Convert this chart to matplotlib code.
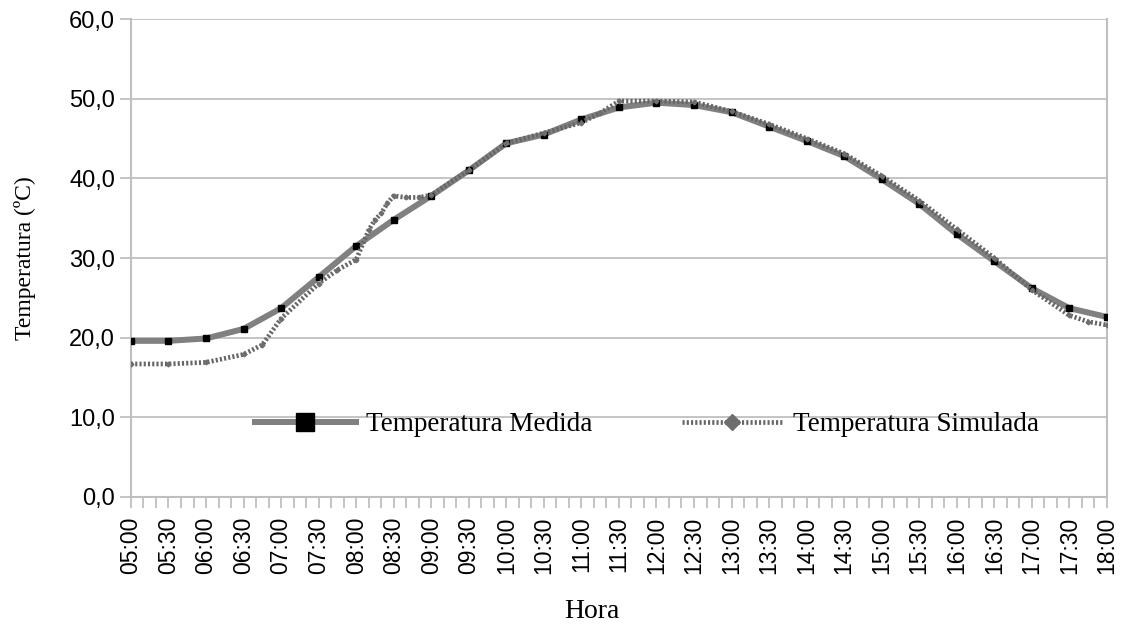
#!/usr/bin/env python3
"""Temperatura medida x simulada ao longo do dia (05:00-18:00)."""

import matplotlib
matplotlib.use("Agg")
import matplotlib.pyplot as plt
from matplotlib.lines import Line2D
from matplotlib.ticker import FuncFormatter, MultipleLocator

# Measured temperature, every 30 min starting at 05:00 (minutes since 05:00)
med_min = list(range(0, 781, 30))
med_temp = [19.6, 19.6, 19.9, 21.1, 23.7, 27.6, 31.5, 34.8, 37.8, 41.0,
            44.4, 45.5, 47.4, 48.9, 49.5, 49.2, 48.3, 46.5, 44.7, 42.8,
            39.9, 36.8, 33.0, 29.6, 26.2, 23.7, 22.6]

# Simulated temperature
sim_min = [0, 30, 60, 90, 105, 120, 150, 165, 180, 190, 195, 200, 205, 210,
           220, 230, 240, 270, 300, 330, 360, 375, 390, 420, 450, 480, 510,
           540, 570, 600, 630, 660, 690, 720, 750, 765, 780]
sim_temp = [16.7, 16.7, 16.9, 17.9, 19.1, 22.4, 26.8, 28.5, 29.8, 33.5,
            34.8, 35.6, 36.9, 37.8, 37.6, 37.6, 37.9, 41.0, 44.4, 45.7,
            47.0, 48.2, 49.7, 49.7, 49.6, 48.4, 46.8, 45.0, 43.1, 40.3,
            37.2, 33.6, 30.0, 26.0, 22.8, 22.0, 21.6]

y_ticks = [0, 10, 20, 30, 40, 50, 60]

SERIF = ["Liberation Serif", "DejaVu Serif"]
SANS = ["Liberation Sans", "DejaVu Sans"]
GRID = "#bfbfbf"


def hhmm(m, _pos=None):
    m = int(round(m)) + 5 * 60
    return f"{m // 60:02d}:{m % 60:02d}"


fig = plt.figure(figsize=(11.24, 6.28), dpi=100)
ax = fig.add_axes([0.1165, 0.2086, 0.8683, 0.7611])

ax.plot(med_min, med_temp, color="#808080", lw=4.3, solid_capstyle="round",
        marker="s", ms=4.0, mfc="black", mec="black", zorder=3)
ax.plot(sim_min, sim_temp, color="#666666", lw=3.4, linestyle=(0, (0.45, 0.45)),
        dash_capstyle="butt", marker="D", ms=2.4, mfc="#6e6e6e", mec="#6e6e6e",
        zorder=4)

ax.set_xlim(0, 780)
ax.set_ylim(0, 60)
ax.set_yticks(y_ticks)
ax.yaxis.set_major_formatter(FuncFormatter(lambda v, p: f"{v:.1f}".replace(".", ",")))
ax.xaxis.set_major_locator(MultipleLocator(30))
ax.xaxis.set_minor_locator(MultipleLocator(10))
ax.xaxis.set_major_formatter(FuncFormatter(hhmm))

ax.grid(axis="y", color=GRID, lw=1.3)
ax.set_axisbelow(True)
for side in ("left", "right", "bottom"):
    ax.spines[side].set_color(GRID)
    ax.spines[side].set_linewidth(1.5)
ax.spines["top"].set_visible(False)

ax.tick_params(axis="both", which="both", direction="out", color=GRID, width=1.3,
               length=8, labelcolor="black")
ax.tick_params(axis="x", which="both", pad=6)
for lab in ax.get_xticklabels():
    lab.set_rotation(90)
    lab.set_family(SANS)
    lab.set_fontsize(16.5)
for lab in ax.get_yticklabels():
    lab.set_family(SANS)
    lab.set_fontsize(17)

ax.set_ylabel("Temperatura (ºC)", family=SERIF, fontsize=17, labelpad=14)
ax.yaxis.set_label_coords(-0.097, 0.5)
fig.text(0.527, 0.026, "Hora", family=SERIF, fontsize=20, ha="center", va="center")

handles = [
    Line2D([], [], color="#808080", lw=4.3, marker="s", ms=13, mfc="black", mec="black"),
    Line2D([], [], color="#666666", lw=3.4, linestyle=(0, (0.45, 0.45)), marker="D",
           ms=8, mfc="#6e6e6e", mec="#6e6e6e"),
]
ax.legend(handles, ["Temperatura Medida", "Temperatura Simulada"], ncol=2,
          loc="center", bbox_to_anchor=(0.529, 0.151), frameon=False,
          prop={"family": SERIF, "size": 19.5}, handlelength=3.7,
          handletextpad=0.4, columnspacing=3.3, borderaxespad=0)

fig.savefig("out.png", dpi=100)
print("Saved plot: out.png")
